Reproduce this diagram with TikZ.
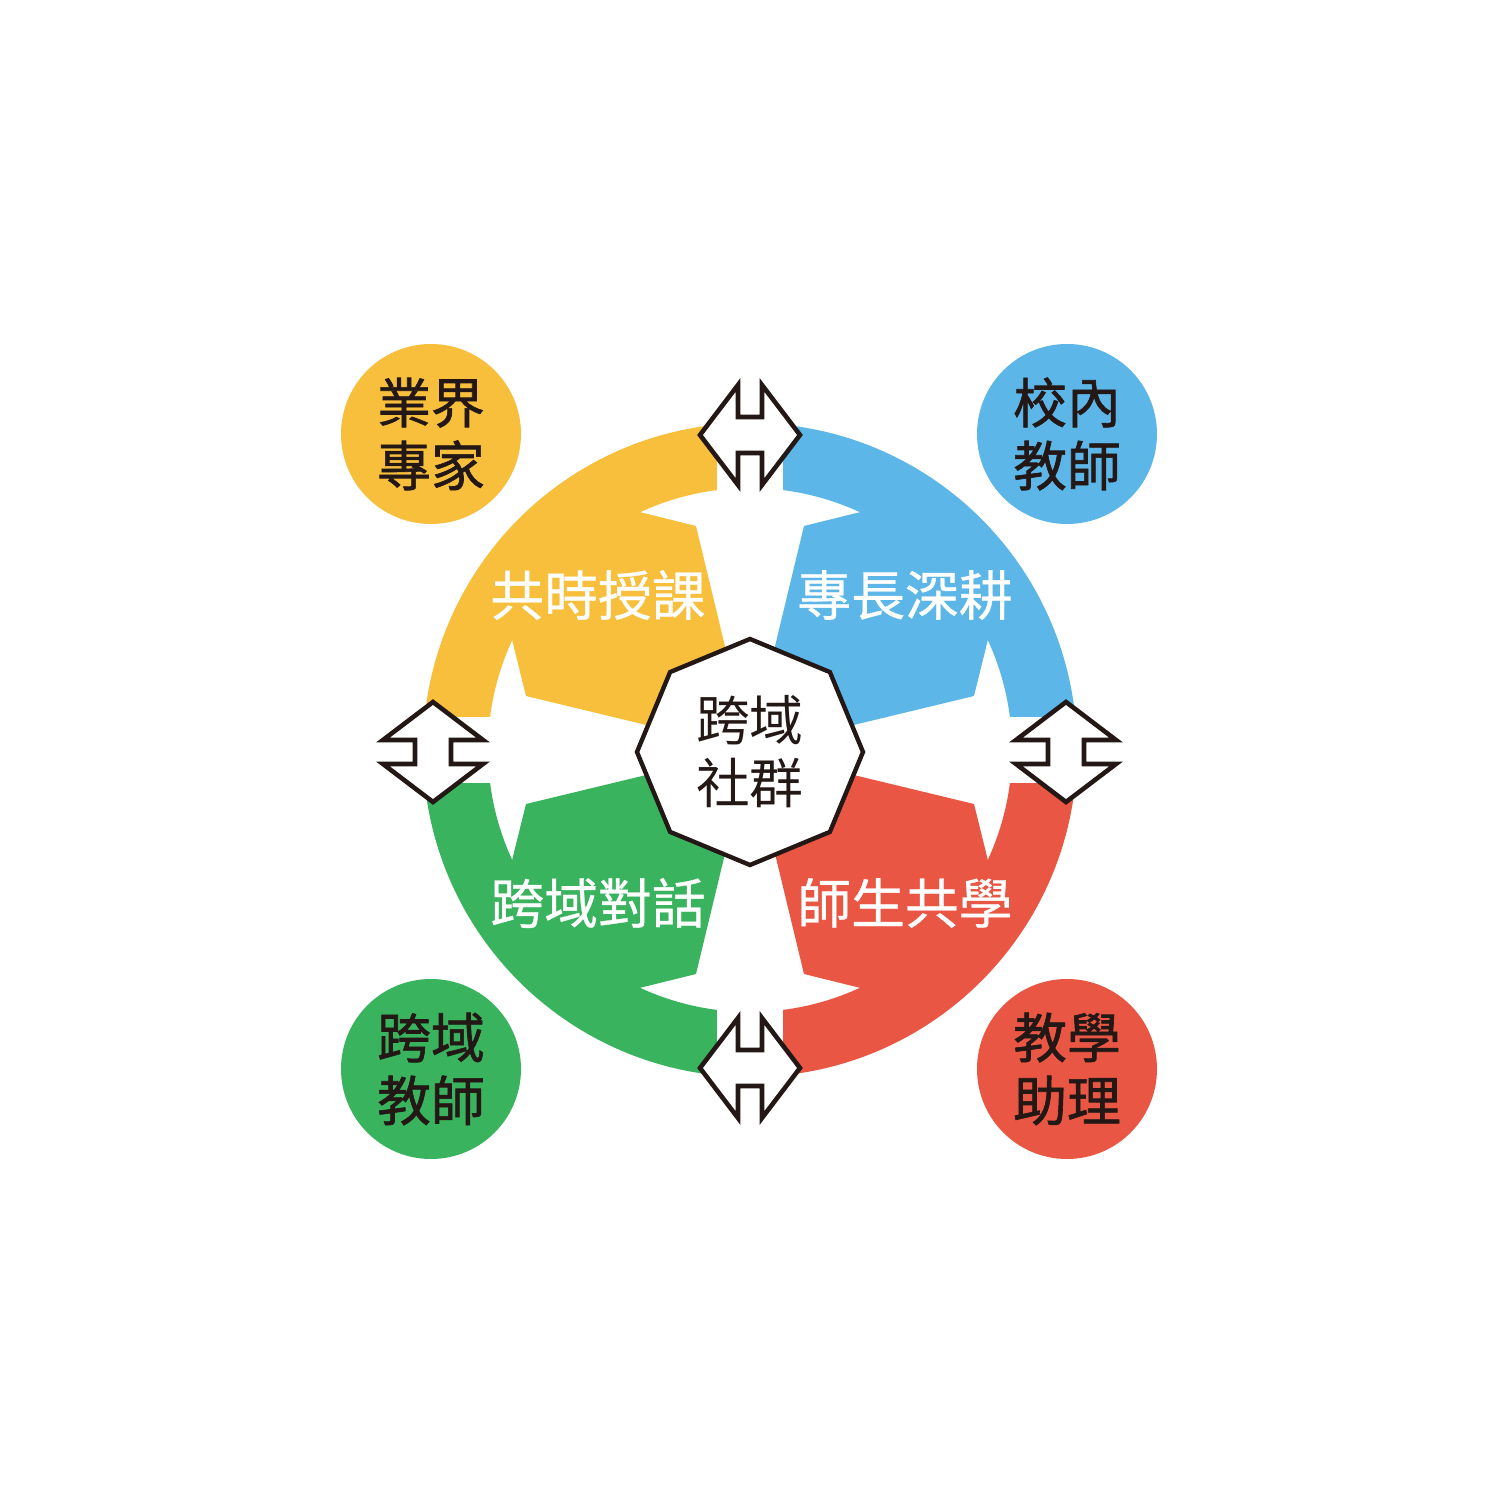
\documentclass[tikz,border=0pt]{standalone}
\usepackage{fontspec}
\newfontfamily\cjk{Noto Sans CJK TC}
\newfontfamily\cjkm{Noto Sans CJK TC}[FakeBold=1.2]
\newfontfamily\cjkw{Noto Sans CJK TC}[FakeBold=0.6]
\definecolor{cyel}{HTML}{F7BF3C}
\definecolor{cblu}{HTML}{5DB6E8}
\definecolor{cgrn}{HTML}{3AB35E}
\definecolor{cred}{HTML}{E95744}
\definecolor{cdark}{HTML}{231815}
\usetikzlibrary{shapes.geometric}
\tikzset{
  dblarrow/.style={draw=cdark, fill=white, line width=1.3pt, line join=miter},
  corner/.style={circle, minimum size=180*0.01cm, inner sep=0pt, align=center,
     font=\cjkm\fontsize{15.3pt}{17.9pt}\selectfont, text=cdark},
  qlabel/.style={font=\cjkw\fontsize{15.3pt}{17.9pt}\selectfont, text=white},
  hub/.style={regular polygon, regular polygon sides=8, shape border rotate=22.5,
     minimum size=226*0.01cm, inner sep=0pt, draw=cdark, fill=white,
     line width=1.25pt, align=center, font=\cjk\fontsize{15.3pt}{17.9pt}\selectfont, text=cdark}
}
\newcommand{\quadpiece}[2]{%
  \begin{scope}[rotate=#1]
    \fill[#2] (95.8:327) arc[start angle=95.8, end angle=174.2, radius=327]
      -- (172.76:262) arc[start angle=172.76, end angle=155.2, radius=262]
      -- (-224,54) -- (0,0) -- (-54,224)
      -- (114.8:262) arc[start angle=114.8, end angle=97.24, radius=262]
      -- cycle;
  \end{scope}}
\newcommand{\dblarr}[3]{%
  \draw[dblarrow, shift={(#1)}, rotate=#2] (-50,0) -- (-12,50) -- (-12,18) -- (12,18) -- (12,50)
    -- (50,0) -- (12,-50) -- (12,-18) -- (-12,-18) -- (-12,-50) -- cycle;
  \coordinate (#3) at (#1);}
\begin{document}
\begin{tikzpicture}[x=0.01cm, y=0.01cm]
  \useasboundingbox[fill=white] (-750,-750) rectangle (750,750);
  % ring pieces
  \quadpiece{0}{cyel}
  \quadpiece{-90}{cblu}
  \quadpiece{180}{cred}
  \quadpiece{90}{cgrn}
  % labels of pieces
  \node[qlabel] (q1) at (-152,155) {共時授課};
  \node[qlabel] (q2) at (155,155) {專長深耕};
  \node[qlabel] (q3) at (-152,-153) {跨域對話};
  \node[qlabel] (q4) at (155,-153) {師生共學};
  % hub
  \node[hub] (hub) at (0,-2) {跨域\\社群};
  % exchange arrows
  \dblarr{0,315}{0}{aT}
  \dblarr{0,-318}{0}{aB}
  \dblarr{-317,-2}{90}{aL}
  \dblarr{316,-2}{90}{aR}
  % corner circles
  \node[corner, fill=cyel] (c1) at (-319,316) {業界\\專家};
  \node[corner, fill=cblu] (c2) at (317,316) {校內\\教師};
  \node[corner, fill=cgrn] (c3) at (-319,-319) {跨域\\教師};
  \node[corner, fill=cred] (c4) at (317,-319) {教學\\助理};
\end{tikzpicture}
\end{document}
